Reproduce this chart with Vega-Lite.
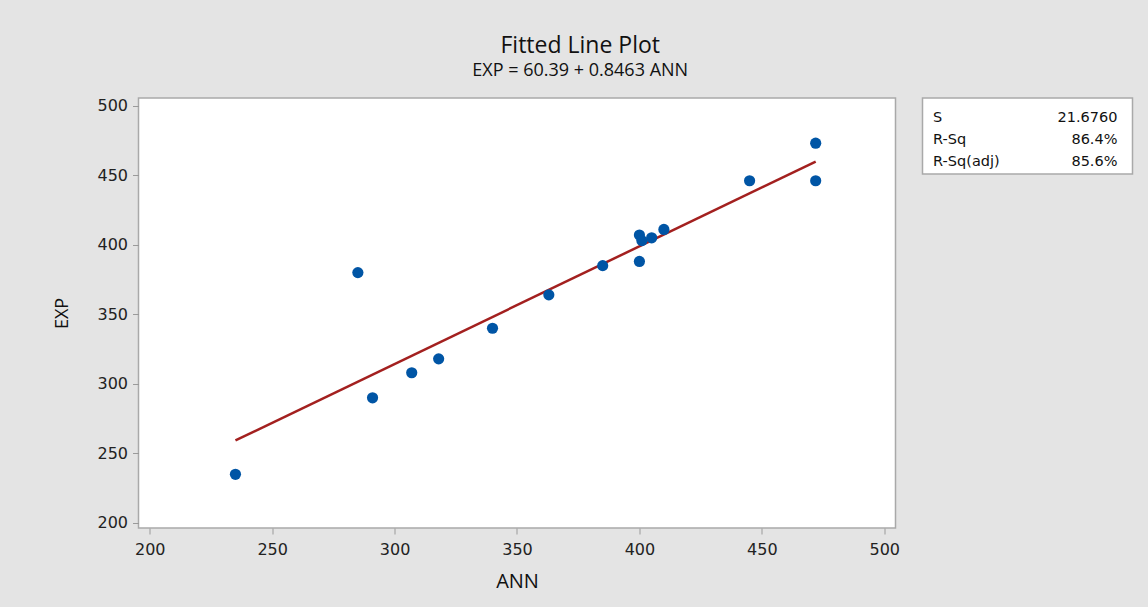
{
  "$schema": "https://vega.github.io/schema/vega-lite/v6.json",
  "background": "#e4e4e4",
  "padding": {"left": 52.5, "top": 34, "right": 14, "bottom": 25},
  "datasets": {
    "points": [
      {"ANN": 235, "EXP": 235},
      {"ANN": 285, "EXP": 380},
      {"ANN": 291, "EXP": 290},
      {"ANN": 307, "EXP": 308},
      {"ANN": 318, "EXP": 318},
      {"ANN": 340, "EXP": 340},
      {"ANN": 363, "EXP": 364},
      {"ANN": 385, "EXP": 385},
      {"ANN": 400, "EXP": 388},
      {"ANN": 400, "EXP": 407},
      {"ANN": 401, "EXP": 403},
      {"ANN": 405, "EXP": 405},
      {"ANN": 410, "EXP": 411},
      {"ANN": 445, "EXP": 446},
      {"ANN": 472, "EXP": 473},
      {"ANN": 472, "EXP": 446}
    ],
    "fit": [
      {"ANN": 235, "EXP": 259.3},
      {"ANN": 472, "EXP": 459.8}
    ],
    "stats": [
      {"stat": "S", "value": "21.6760"},
      {"stat": "R-Sq", "value": "86.4%"},
      {"stat": "R-Sq(adj)", "value": "85.6%"}
    ]
  },
  "title": {
    "text": "Fitted Line Plot",
    "subtitle": "EXP = 60.39 + 0.8463 ANN",
    "anchor": "middle",
    "font": "Open Sans",
    "fontSize": 23,
    "fontWeight": 500,
    "color": "#111111",
    "subtitleFont": "Open Sans",
    "subtitleFontSize": 18,
    "subtitleColor": "#111111",
    "subtitlePadding": 4,
    "offset": 17,
    "dx": -13
  },
  "spacing": 21,
  "hconcat": [
    {
      "width": 757,
      "height": 430,
      "layer": [
        {
          "data": {"name": "fit"},
          "mark": {"type": "line", "color": "#a3201f", "strokeWidth": 2.5},
          "encoding": {
            "x": {"field": "ANN", "type": "quantitative"},
            "y": {"field": "EXP", "type": "quantitative"}
          }
        },
        {
          "data": {"name": "points"},
          "mark": {"type": "circle", "color": "#0055a5", "opacity": 1, "size": 125},
          "encoding": {
            "x": {
              "field": "ANN",
              "type": "quantitative",
              "scale": {"domain": [195.4, 504.6], "nice": false, "zero": false},
              "axis": {"values": [200, 250, 300, 350, 400, 450, 500], "title": "ANN"}
            },
            "y": {
              "field": "EXP",
              "type": "quantitative",
              "scale": {"domain": [196.4, 505.5], "nice": false, "zero": false},
              "axis": {"values": [200, 250, 300, 350, 400, 450, 500], "title": "EXP"}
            }
          }
        }
      ]
    },
    {
      "width": 210,
      "height": 76,
      "data": {"name": "stats"},
      "layer": [
        {
          "mark": {"type": "text", "align": "left", "baseline": "middle", "font": "DejaVu Sans", "fontSize": 14.5, "color": "#111111"},
          "encoding": {
            "x": {"datum": "label", "type": "nominal", "scale": {"type": "point", "domain": ["label", "value"], "padding": 0.0694, "align": 0.414}, "axis": null},
            "y": {"field": "stat", "type": "nominal", "scale": {"type": "point", "domain": ["S", "R-Sq", "R-Sq(adj)"], "padding": 0.727, "align": 0.616}, "axis": null},
            "text": {"field": "stat"}
          }
        },
        {
          "mark": {"type": "text", "align": "right", "baseline": "middle", "font": "DejaVu Sans", "fontSize": 14.5, "color": "#111111"},
          "encoding": {
            "x": {"datum": "value", "type": "nominal"},
            "y": {"field": "stat", "type": "nominal"},
            "text": {"field": "value"}
          }
        }
      ]
    }
  ],
  "config": {
    "view": {"fill": "white", "stroke": "#a9a9a9", "strokeWidth": 1.5},
    "axis": {
      "grid": false,
      "domain": false,
      "tickColor": "#9a9a9a",
      "tickSize": 6,
      "labelFont": "DejaVu Sans",
      "labelFontSize": 16,
      "labelColor": "#222222",
      "titleFont": "Open Sans",
      "titleFontWeight": "normal",
      "titleColor": "#111111"
    },
    "axisX": {"labelPadding": 7, "titleFontSize": 20, "titlePadding": 14},
    "axisY": {"labelPadding": 5, "titleFontSize": 18, "titlePadding": 25}
  }
}
